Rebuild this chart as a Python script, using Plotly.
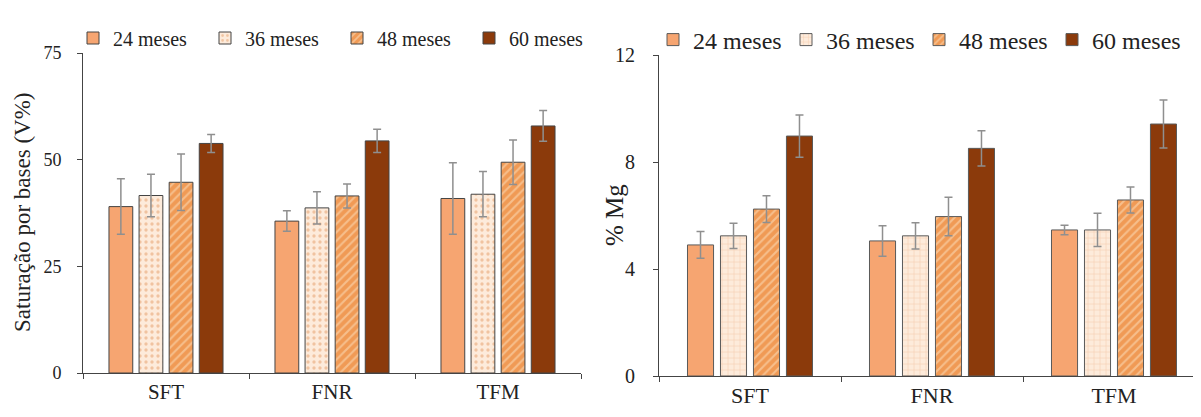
import plotly.graph_objects as go

categories = ["SFT", "FNR", "TFM"]
series_names = ["24 meses", "36 meses", "48 meses", "60 meses"]

# Left panel: Saturação por bases (V%)
v_24 = [39.0, 35.6, 40.9]
v_36 = [41.6, 38.7, 41.9]
v_48 = [44.7, 41.5, 49.4]
v_60 = [53.8, 54.4, 57.9]
v_err_24 = [6.5, 2.4, 8.4]
v_err_36 = [5.0, 3.8, 5.3]
v_err_48 = [6.6, 2.8, 5.2]
v_err_60 = [2.1, 2.7, 3.6]

# Right panel: % Mg
mg_24 = [4.90, 5.05, 5.46]
mg_36 = [5.24, 5.24, 5.46]
mg_48 = [6.24, 5.96, 6.58]
mg_60 = [8.97, 8.51, 9.42]
mg_err_24 = [0.50, 0.57, 0.18]
mg_err_36 = [0.47, 0.49, 0.62]
mg_err_48 = [0.50, 0.72, 0.49]
mg_err_60 = [0.79, 0.66, 0.90]

left_vals = [v_24, v_36, v_48, v_60]
left_errs = [v_err_24, v_err_36, v_err_48, v_err_60]
right_vals = [mg_24, mg_36, mg_48, mg_60]
right_errs = [mg_err_24, mg_err_36, mg_err_48, mg_err_60]

FONT = "Liberation Serif"
LINE = "#444444"

# page offset (body margin) and figure size
OFF = 8
W, H = 1193, 409

def px_x(px):
    return (px - OFF) / W

def px_y(py):
    return 1 - (py - OFF) / H

fills_left = [
    dict(color="#F6A571"),
    dict(color="#FDEBDB", pattern=dict(shape=".", fgcolor="#E39B66", bgcolor="#FDEBDB", size=6, solidity=0.25)),
    dict(color="#F09A55", pattern=dict(shape="/", fgcolor="#FCE3C4", bgcolor="#F09A55", size=6, solidity=0.35)),
    dict(color="#8B3A0B"),
]
fills_right = [
    dict(color="#F6A571"),
    dict(color="#FDEBDB", pattern=dict(shape="+", fgcolor="#EDB48A", bgcolor="#FDEBDB", size=6, solidity=0.2)),
    dict(color="#F09A55", pattern=dict(shape="/", fgcolor="#FCE3C4", bgcolor="#F09A55", size=6, solidity=0.35)),
    dict(color="#8B3A0B"),
]

fig = go.Figure()

for name, vals, errs, fill in zip(series_names, left_vals, left_errs, fills_left):
    marker = dict(fill)
    marker["line"] = dict(color=LINE, width=1)
    fig.add_trace(go.Bar(
        x=categories, y=vals, name=name, marker=marker,
        error_y=dict(type="data", array=errs, visible=True, color="#8f8f8f", thickness=1.5, width=4),
        xaxis="x", yaxis="y", legend="legend",
    ))

for name, vals, errs, fill in zip(series_names, right_vals, right_errs, fills_right):
    marker = dict(fill)
    marker["line"] = dict(color="#5a5a5a", width=1)
    fig.add_trace(go.Bar(
        x=categories, y=vals, name=name, marker=marker,
        error_y=dict(type="data", array=errs, visible=True, color="#8f8f8f", thickness=1.5, width=4),
        xaxis="x2", yaxis="y2", legend="legend2",
    ))

axis_common = dict(showline=True, linecolor=LINE, linewidth=1, showgrid=False, zeroline=False,
                   ticks="outside", ticklen=5, tickcolor=LINE)

fig.update_layout(
    width=W, height=H,
    margin=dict(l=0, r=0, t=0, b=0, autoexpand=False),
    paper_bgcolor="white", plot_bgcolor="white",
    barmode="group", bargap=0.275, bargroupgap=0.21,
    font=dict(family=FONT, color="#222222"),
    xaxis=dict(domain=[px_x(83), px_x(581)], anchor="y", tickson="boundaries",
               range=[-0.5, 2.5], tickfont=dict(size=21), **axis_common),
    yaxis=dict(domain=[px_y(373), px_y(53)], anchor="x", range=[0, 75],
               tickvals=[0, 25, 50, 75], tickfont=dict(size=18), ticklabelstandoff=12, **axis_common),
    xaxis2=dict(domain=[px_x(659), 1.0], anchor="y2", tickson="boundaries",
                range=[-0.5, -0.5 + (1201 - 659) / 182], tickfont=dict(size=22), **axis_common),
    yaxis2=dict(domain=[px_y(376), px_y(55)], anchor="x2", range=[0, 12],
                tickvals=[0, 4, 8, 12], tickfont=dict(size=20), ticklabelstandoff=14, **axis_common),
    legend=dict(orientation="h", x=px_x(73), xanchor="left", y=px_y(38), yanchor="middle",
                font=dict(size=20, family=FONT), entrywidth=87, entrywidthmode="pixels",
                itemwidth=30, bgcolor="rgba(0,0,0,0)", tracegroupgap=0),
    legend2=dict(orientation="h", x=px_x(653), xanchor="left", y=px_y(40), yanchor="middle",
                 font=dict(size=24, family=FONT), entrywidth=88, entrywidthmode="pixels",
                 itemwidth=30, bgcolor="rgba(0,0,0,0)", tracegroupgap=0),
    annotations=[
        dict(text="Saturação por bases (V%)", x=px_x(22), y=px_y(212), xref="paper", yref="paper",
             textangle=-90, showarrow=False, font=dict(size=23, family=FONT), xanchor="center", yanchor="middle"),
        dict(text="% Mg", x=px_x(615), y=px_y(215), xref="paper", yref="paper",
             textangle=-90, showarrow=False, font=dict(size=25, family=FONT), xanchor="center", yanchor="middle"),
    ],
)

fig.write_html("out.html")
